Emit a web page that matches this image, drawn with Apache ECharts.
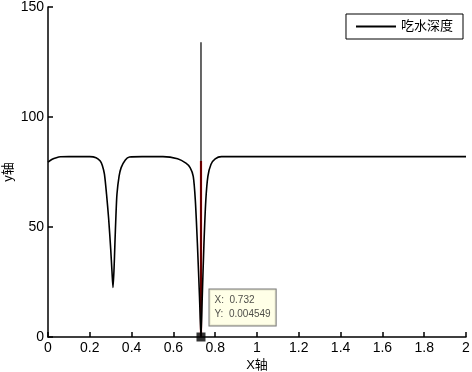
<!DOCTYPE html>
<html>
<head>
<meta charset="utf-8">
<script src="https://cdn.jsdelivr.net/npm/echarts@6/dist/echarts.min.js"></script>
<style>
  html, body { margin: 0; padding: 0; background: #fff; }
  #chart { width: 472px; height: 372px; }
</style>
</head>
<body>
<div id="chart"></div>
<script>
// 吃水深度曲线
const xValues = [0, 0.02, 0.04, 0.06, 0.1, 0.15, 0.2, 0.23, 0.25, 0.26, 0.27, 0.28, 0.29, 0.3, 0.306, 0.311,
  0.316, 0.32, 0.325, 0.33, 0.34, 0.35, 0.37, 0.39, 0.45, 0.55, 0.62, 0.66, 0.68, 0.695, 0.705, 0.715,
  0.725, 0.732, 0.738, 0.746, 0.755, 0.765, 0.78, 0.8, 0.83, 1.0, 1.5, 2.0]
const depthValues = [79.5, 80.8, 81.5, 81.9, 82, 82, 82, 81.5, 80, 78, 74, 65, 54, 40, 30, 22.5,
  31, 42, 55, 65, 73, 77, 80.5, 81.8, 82, 82, 81, 79, 77, 73, 62, 42,
  18, 0.004549, 18, 42, 62, 73, 78.5, 81, 82, 82, 82, 82]
// 数据提示点
const tipX = 0.732
const tipY = 0.004549
const cursorTop = 134
const redTop = 80
const xTicks = { min: 0, max: 2, interval: 0.2 }
const yTicks = { min: 0, max: 150, interval: 50 }

const chart = echarts.init(document.getElementById('chart'))
const font = 'Liberation Sans, Arial, Noto Sans CJK SC, sans-serif'

const option = {
  animation: false,
  textStyle: { fontFamily: font },
  grid: { left: 48, right: 6, top: 7, bottom: 35, containLabel: false, outerBoundsMode: 'none' },
  legend: {
    data: ['吃水深度'],
    right: 9,
    top: 14,
    orient: 'vertical',
    icon: 'rect',
    itemWidth: 40,
    itemHeight: 2,
    itemGap: 4,
    padding: [6, 10, 6, 10],
    borderColor: '#000',
    borderWidth: 1,
    backgroundColor: '#fff',
    textStyle: { color: '#000', fontSize: 13, fontFamily: font }
  },
  xAxis: {
    type: 'value',
    min: xTicks.min,
    max: xTicks.max,
    interval: xTicks.interval,
    name: 'X轴',
    nameLocation: 'middle',
    nameGap: 22,
    nameMoveOverlap: false,
    nameTextStyle: { color: '#000', fontSize: 13 },
    axisLine: { onZero: false, lineStyle: { color: '#000', width: 1.5 } },
    axisTick: { inside: true, length: 5, lineStyle: { color: '#000', width: 1.5 } },
    axisLabel: { color: '#000', fontSize: 14, margin: 4 },
    splitLine: { show: false }
  },
  yAxis: {
    type: 'value',
    min: yTicks.min,
    max: yTicks.max,
    interval: yTicks.interval,
    name: 'y轴',
    nameLocation: 'middle',
    nameGap: 33,
    nameMoveOverlap: false,
    nameTextStyle: { color: '#000', fontSize: 13 },
    axisLine: { show: true, lineStyle: { color: '#000', width: 1.5 } },
    axisTick: { show: true, inside: true, length: 5, lineStyle: { color: '#000', width: 1.5 } },
    axisLabel: { color: '#000', fontSize: 14, margin: 4 },
    splitLine: { show: false }
  },
  series: [
    {
      name: 'red',
      type: 'line',
      symbol: 'none',
      data: [[tipX, tipY], [tipX, redTop]],
      lineStyle: { color: '#ff0000', width: 2.2 },
      z: 2
    },
    {
      name: '吃水深度',
      type: 'line',
      symbol: 'none',
      smooth: 0.25,
      data: xValues.map((x, i) => [x, depthValues[i]]),
      lineStyle: { color: '#000', width: 1.6 },
      itemStyle: { color: '#000' },
      z: 3
    },
    {
      name: 'cursor',
      type: 'line',
      symbol: 'none',
      data: [[tipX, 0], [tipX, cursorTop]],
      lineStyle: { color: '#000', width: 1.2 },
      z: 4
    },
    {
      name: 'tip',
      type: 'scatter',
      symbol: 'rect',
      symbolSize: 9,
      data: [[tipX, 0]],
      itemStyle: { color: '#000' },
      z: 5,
      label: {
        show: true,
        position: [13, -43],
        align: 'left',
        verticalAlign: 'top',
        formatter: 'X:  ' + tipX + '\nY:  ' + tipY,
        fontSize: 10,
        lineHeight: 14,
        color: '#222',
        padding: [4, 5, 4, 5],
        backgroundColor: '#ffffe1',
        borderColor: '#555',
        borderWidth: 1
      }
    }
  ]
}

chart.setOption(option)
</script>
</body>
</html>
